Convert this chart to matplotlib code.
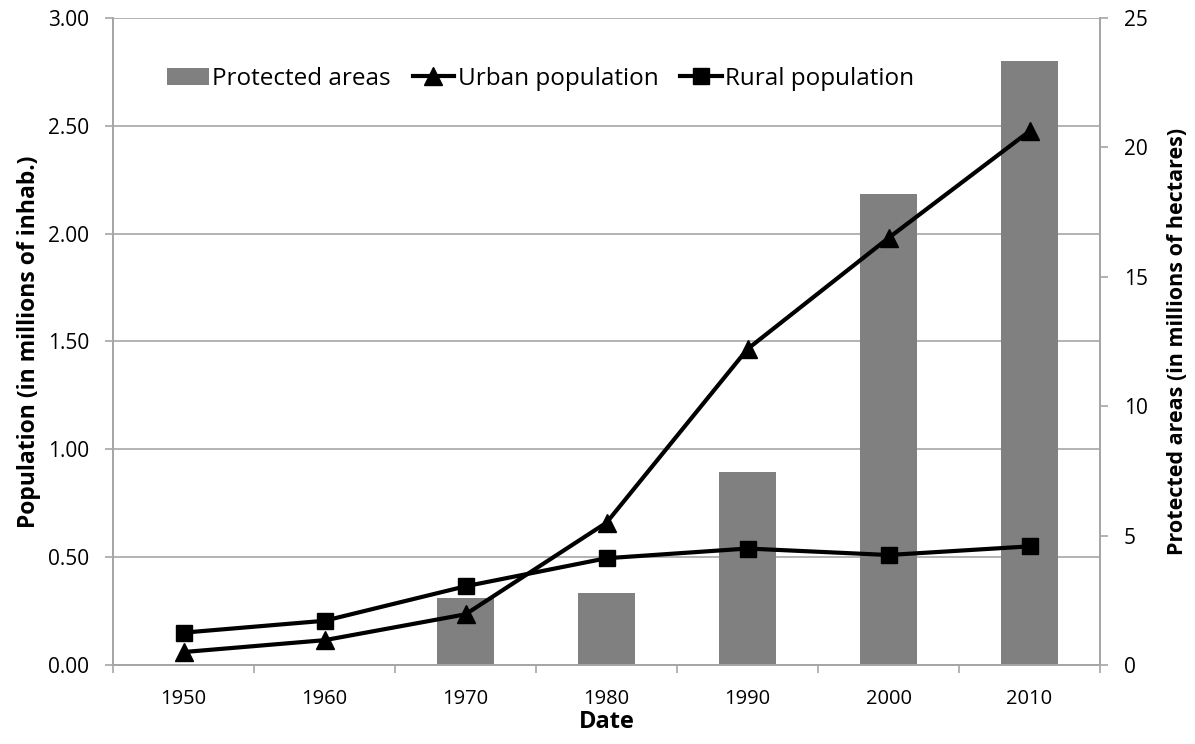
"""Population and protected areas, 1950-2010."""

import matplotlib
matplotlib.use("Agg")
import matplotlib.pyplot as plt
import numpy as np

plt.rcParams["font.family"] = ["Open Sans", "DejaVu Sans"]

YEARS = ["1950", "1960", "1970", "1980", "1990", "2000", "2010"]
PROTECTED = [0, 0, 2.6, 2.78, 7.46, 18.2, 23.35]          # millions of hectares
URBAN = [0.06, 0.115, 0.235, 0.66, 1.465, 1.98, 2.475]    # millions of inhab.
RURAL = [0.15, 0.205, 0.365, 0.495, 0.54, 0.51, 0.55]

GREY = "#A6A6A6"
BAR = "#808080"

x = np.arange(len(YEARS))

fig = plt.figure(figsize=(11.95, 7.44), dpi=100)
ax = fig.add_axes([0.0946, 0.1062, 0.8259, 0.8696])
ax2 = ax.twinx()
ax3 = ax.twinx()

# left axis: population scale + gridlines
ax.set_xlim(-0.5, len(YEARS) - 0.5)
ax.set_ylim(0, 3)
ax.set_yticks(np.arange(0, 3.01, 0.5))
ax.set_yticklabels([f"{v:.2f}" for v in np.arange(0, 3.01, 0.5)])
ax.yaxis.grid(True, color=GREY, linewidth=1.2)
ax.set_axisbelow(True)
ax.set_xticks(x)
ax.set_xticklabels(YEARS)
ax.set_xticks(np.arange(-0.5, len(YEARS)), minor=True)
ax.tick_params(axis="x", which="major", length=0, pad=17, labelsize=14.5)
ax.tick_params(axis="x", which="minor", length=6, color=GREY, width=1.2)
ax.tick_params(axis="y", length=6, color=GREY, width=1.2, labelsize=15, pad=11)
ax.set_xlabel("Date", fontsize=17, fontweight="bold", labelpad=1)
ax.set_ylabel("Population (in millions of inhab.)", fontsize=16.5,
              fontweight="bold", labelpad=5)

# right axis: protected areas as bars
ax2.bar(x, PROTECTED, width=0.41, color=BAR, label="Protected areas", zorder=2)
ax2.set_ylim(0, 25)
ax2.set_yticks(range(0, 26, 5))
ax2.tick_params(axis="y", length=6, color=GREY, width=1.2, labelsize=15, pad=11)
ax2.set_ylabel("Protected areas (in millions of hectares)", fontsize=15.5,
               fontweight="bold", labelpad=14)

# population lines on a hidden twin sharing the left scale
ax3.set_ylim(0, 3)
ax3.plot(x, URBAN, "-^", color="black", linewidth=3, markersize=13,
         label="Urban population")
ax3.plot(x, RURAL, "-s", color="black", linewidth=3, markersize=12,
         label="Rural population")
ax3.set_yticks([])

for a in (ax, ax2, ax3):
    a.spines["top"].set_visible(False)
    for side in ("left", "right", "bottom"):
        a.spines[side].set_color(GREY)
        a.spines[side].set_linewidth(1.2)

h2, l2 = ax2.get_legend_handles_labels()
h3, l3 = ax3.get_legend_handles_labels()
ax3.legend(h2 + h3, l2 + l3, loc="upper left", bbox_to_anchor=(0.045, 0.94),
           ncol=3, frameon=False, fontsize=17.5, handlelength=1.7,
           handletextpad=0.15, columnspacing=0.9, borderaxespad=0)

fig.savefig("out.png", dpi=100)
